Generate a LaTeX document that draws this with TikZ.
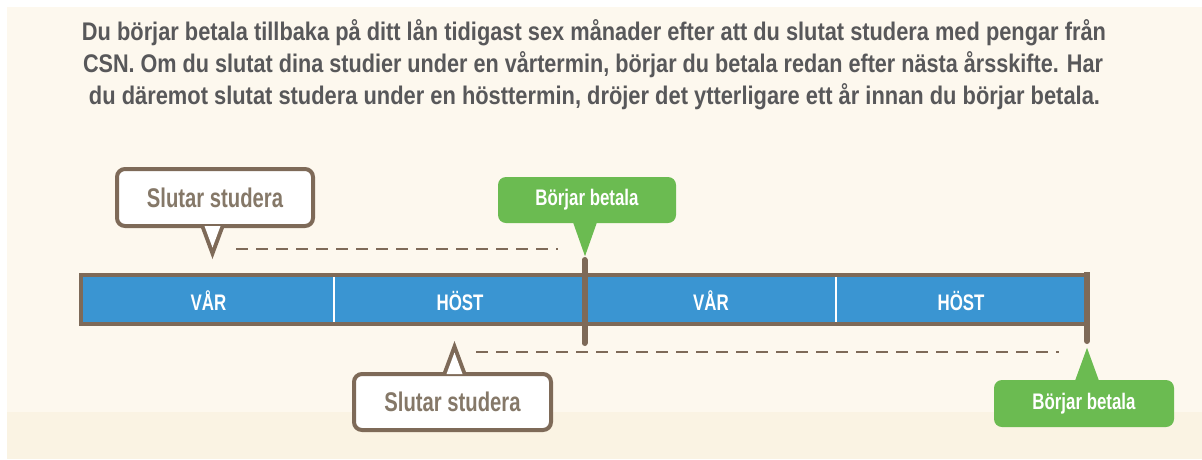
\documentclass[tikz,border=0pt]{standalone}
\usepackage{fontspec}
\setmainfont{Liberation Sans}[FakeStretch=0.75]
\usetikzlibrary{calc}
\definecolor{cream}{HTML}{FDF8EE}
\definecolor{creamdark}{HTML}{FAF3E3}
\definecolor{textgray}{HTML}{58585A}
\definecolor{brownc}{HTML}{7E6A58}
\definecolor{calltext}{HTML}{857868}
\definecolor{barblue}{HTML}{3A95D2}
\definecolor{greenc}{HTML}{6BBB51}
\tikzset{
  mainline/.style={anchor=base, inner sep=0pt, text=textgray, font=\fontsize{25.5}{28}\selectfont\bfseries},
  callbox/.style={draw=brownc, line width=4pt, fill=white, rounded corners=8pt, inner sep=0pt,
    text=calltext, font=\fontsize{27}{30}\selectfont\bfseries},
  greenbox/.style={fill=greenc, rounded corners=8pt, inner sep=0pt, text=white,
    font=\fontsize{22.5}{25}\selectfont\bfseries},
  seglabel/.style={inner sep=0pt, text=white, font=\fontsize{22.5}{25}\selectfont\bfseries},
  dashline/.style={draw=brownc, line width=2.5pt, dash pattern=on 12pt off 8pt},
  tick/.style={draw=brownc, line width=6pt, line cap=round},
  divider/.style={draw=white, line width=2pt},
}
\begin{document}
\begin{tikzpicture}[x=1pt,y=-1pt]
\useasboundingbox (0,0) rectangle (1202,459);
\fill[white] (0,0) rectangle (1202,459);
\fill[cream] (7,7) rectangle (1202,459);
\fill[creamdark] (7,412) rectangle (1202,459);

% paragraph
\node[mainline] (l1) at (594,40) {\resizebox{1024pt}{\height}{Du börjar betala tillbaka på ditt lån tidigast sex månader efter att du slutat studera med pengar från}};
\node[mainline] (l2) at (593,72) {\resizebox{1020pt}{\height}{CSN. Om du slutat dina studier under en vårtermin, börjar du betala redan efter nästa årsskifte. Har}};
\node[mainline] (l3) at (594.5,104) {\resizebox{1011pt}{\height}{du däremot slutat studera under en hösttermin, dröjer det ytterligare ett år innan du börjar betala.}};

% bar
\node[draw=brownc, fill=barblue, line width=4pt, minimum width=1006pt, minimum height=49pt, inner sep=0pt] (bar) at (584,299.5) {};
\draw[divider] (334,277) -- (334,322);
\draw[divider] (836,277) -- (836,322);
\node[seglabel] (v1) at (208.5,301) {VÅR};
\node[seglabel] (h1) at (460,301) {HÖST};
\node[seglabel] (v2) at (711,301) {VÅR};
\node[seglabel] (h2) at (961,301) {HÖST};

% ticks
\coordinate (t1a) at (584.5,260);
\coordinate (t1b) at (584.5,343);
\coordinate (t2a) at (1087,274);
\coordinate (t2b) at (1087,341);
\draw[tick] (t1a) -- (t1b);
\draw[brownc, line width=6pt] (1087,272) -- (1087,330);
\draw[tick] (1087,330) -- (t2b);

% dashed
\coordinate (d1a) at (236,249);
\coordinate (d1b) at (558,249);
\coordinate (d2a) at (476,352);
\coordinate (d2b) at (1059,352);
\draw[dashline] (d1a) -- (d1b);
\draw[dashline] (d2a) -- (d2b);

% top Slutar studera
\node[callbox, minimum width=196pt, minimum height=57pt] (ss1) at (215,197.5) {Slutar studera};
\fill[brownc] ($(ss1.south)+(-14.7,-2)$) -- ($(ss1.south)+(-2.5,31)$) -- ($(ss1.south)+(9.7,-2)$) -- cycle;
\fill[white] ($(ss1.south)+(-10.5,-2)$) -- ($(ss1.south)+(-2.5,19.5)$) -- ($(ss1.south)+(5.5,-2)$) -- cycle;

% bottom Slutar studera
\node[callbox, minimum width=197pt, minimum height=56pt] (ss2) at (452.5,402) {Slutar studera};
\fill[brownc] ($(ss2.north)+(-10.2,2)$) -- ($(ss2.north)+(2,-31)$) -- ($(ss2.north)+(14.2,2)$) -- cycle;
\fill[white] ($(ss2.north)+(-6,2)$) -- ($(ss2.north)+(2,-19.5)$) -- ($(ss2.north)+(10,2)$) -- cycle;

% green
\node[greenbox, minimum width=178pt, minimum height=46pt] (bb1) at (587,200) {Börjar betala};
\fill[greenc] ($(bb1.south)+(-14,-1)$) -- ($(bb1.south)+(-2,33)$) -- ($(bb1.south)+(10,-1)$) -- cycle;
\node[greenbox, minimum width=180pt, minimum height=47pt] (bb2) at (1084,403.5) {Börjar betala};
\fill[greenc] ($(bb2.north)+(-9,1)$) -- ($(bb2.north)+(3,-32)$) -- ($(bb2.north)+(15,1)$) -- cycle;
\end{tikzpicture}
\end{document}
